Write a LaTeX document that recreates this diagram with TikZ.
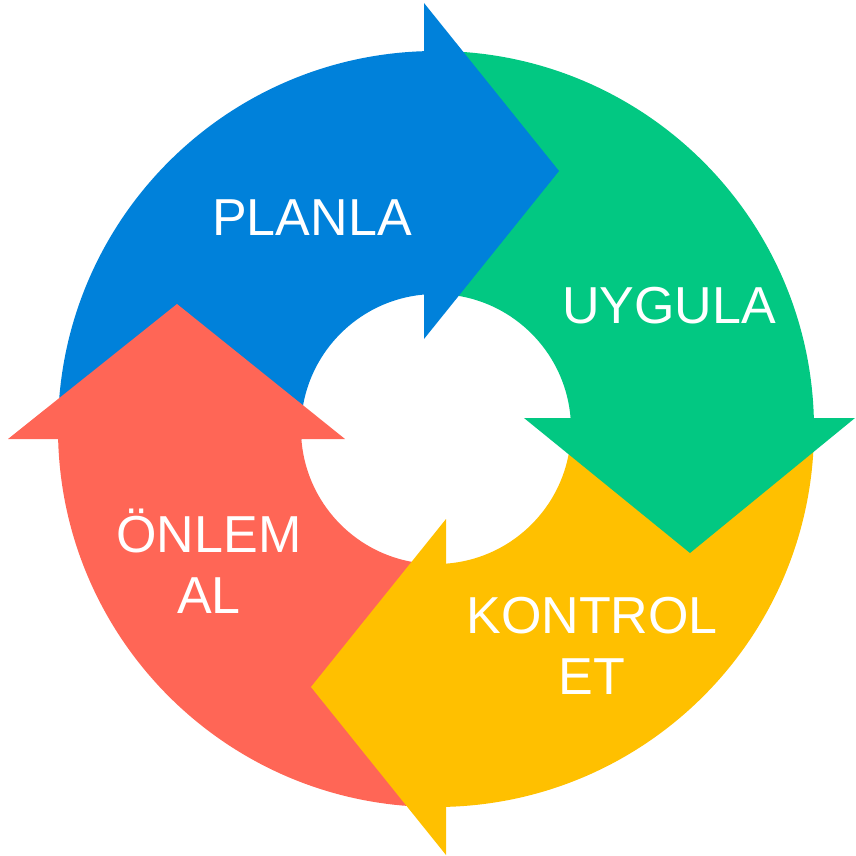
\documentclass[tikz,border=0pt]{standalone}
\usepackage{fontspec}
\setmainfont{Liberation Sans}
\definecolor{cblue}{RGB}{0,129,218}
\definecolor{cgreen}{RGB}{2,200,130}
\definecolor{cyellow}{RGB}{255,192,0}
\definecolor{cred}{RGB}{255,102,86}
\begin{document}
\begin{tikzpicture}[x=1pt,y=-1pt,
  lbl/.style={text=white,inner sep=0pt,anchor=base,align=center,font=\fontsize{52}{61}\selectfont}]
\useasboundingbox (0,0) rectangle (855,856);
\coordinate (c) at (436,429);
\def\ring#1{\fill[#1,even odd rule] (c) circle[radius=378] (c) circle[radius=135];}
% bands
\begin{scope}\clip (0,0) rectangle (426,439); \ring{cblue} \end{scope}
\begin{scope}\clip (426,0) rectangle (855,420); \ring{cgreen} \end{scope}
\begin{scope}\clip (444,420) rectangle (855,856); \ring{cyellow} \end{scope}
\begin{scope}\clip (0,437) rectangle (444,856); \ring{cred} \end{scope}
% heads
\fill[cblue] (424,3) -- (559,171) -- (424,339) -- cycle;
\fill[cgreen] (524,418) -- (855,418) -- (690,553) -- cycle;
\fill[cyellow] (446,519) -- (446,855) -- (311,687) -- cycle;
\fill[cred] (8,439) -- (345,439) -- (177,304) -- cycle;
% labels
\node[lbl] (plan) at (312,235) {PLANLA};
\node[lbl] (do) at (669,323) {UYGULA};
\node[lbl] (check) at (592,694) {KONTROL\\ET};
\node[lbl] (act) at (209,613) {ÖNLEM\\AL};
\end{tikzpicture}
\end{document}
